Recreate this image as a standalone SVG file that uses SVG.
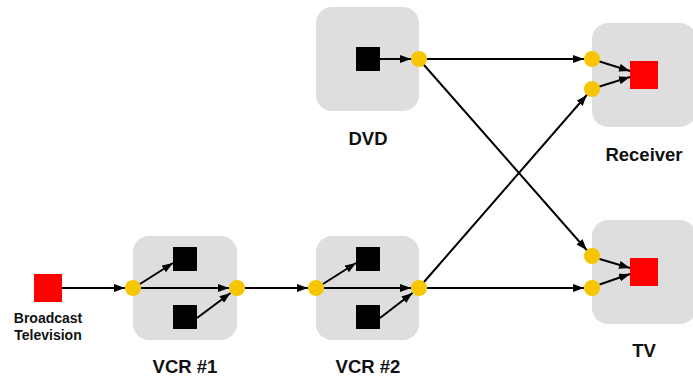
<svg xmlns="http://www.w3.org/2000/svg" width="693" height="379" viewBox="0 0 693 379">
<style>
.box{fill:#dedede}
.dot{fill:#f7c600}
.blk{fill:#000}
.red{fill:#ff0000}
.lbl{font-family:"Liberation Sans",Arial,sans-serif;font-weight:bold;font-size:18.5px;fill:#111;text-anchor:middle}
.sm{font-size:14px}
.c line{stroke:#000;stroke-width:2;marker-end:url(#ah)}
</style>
<defs>
<marker id="ah" markerUnits="userSpaceOnUse" markerWidth="12" markerHeight="8" refX="11" refY="4" orient="auto">
<path d="M0,0 L11,4 L0,8 z" fill="#000"/>
</marker>
</defs>
<rect width="693" height="379" fill="#fff"/>
<g id="broadcast">
<rect class="red" x="34" y="274" width="28" height="28"/>
<text class="lbl sm" x="48" y="322.5">Broadcast</text>
<text class="lbl sm" x="48" y="340">Television</text>
</g>
<g id="vcr1">
<rect class="box" x="133" y="236" width="104" height="104" rx="16"/>
<rect class="blk" x="173" y="247" width="24" height="24"/>
<rect class="blk" x="173" y="305" width="24" height="24"/>
<circle class="dot" cx="133" cy="288" r="8"/>
<circle class="dot" cx="237" cy="288" r="8"/>
<text class="lbl" x="185" y="372.5">VCR #1</text>
</g>
<g id="vcr2">
<rect class="box" x="316" y="236" width="103" height="104" rx="16"/>
<rect class="blk" x="356" y="247" width="24" height="24"/>
<rect class="blk" x="356" y="305" width="24" height="24"/>
<circle class="dot" cx="316" cy="288" r="8"/>
<circle class="dot" cx="419" cy="288" r="8"/>
<text class="lbl" x="368" y="372.5">VCR #2</text>
</g>
<g id="dvd">
<rect class="box" x="316" y="7" width="103" height="104" rx="16"/>
<rect class="blk" x="356" y="47" width="24" height="24"/>
<circle class="dot" cx="419" cy="59" r="8"/>
<text class="lbl" x="368" y="145">DVD</text>
</g>
<g id="receiver">
<rect class="box" x="592" y="23" width="104" height="104" rx="16"/>
<rect class="red" x="630" y="61" width="28" height="28"/>
<circle class="dot" cx="592" cy="59" r="8"/>
<circle class="dot" cx="592" cy="89" r="8"/>
<text class="lbl" x="644" y="161">Receiver</text>
</g>
<g id="tv">
<rect class="box" x="592" y="220" width="104" height="104" rx="16"/>
<rect class="red" x="630" y="258" width="28" height="28"/>
<circle class="dot" cx="592" cy="256" r="8"/>
<circle class="dot" cx="592" cy="288" r="8"/>
<text class="lbl" x="644" y="357">TV</text>
</g>
<g id="connectors" class="c">
<line x1="62" y1="288" x2="125" y2="288"/>
<line x1="140" y1="284" x2="173" y2="263"/>
<line x1="141" y1="288" x2="229" y2="288"/>
<line x1="197" y1="318" x2="230.5" y2="293"/>
<line x1="245" y1="288" x2="308" y2="288"/>
<line x1="323" y1="284" x2="356" y2="263"/>
<line x1="324" y1="288" x2="411" y2="288"/>
<line x1="380" y1="318" x2="412.5" y2="293"/>
<line x1="427" y1="288" x2="584" y2="288"/>
<line x1="424" y1="282" x2="586.8" y2="95"/>
<line x1="380" y1="59" x2="411" y2="59"/>
<line x1="427" y1="59" x2="584" y2="59"/>
<line x1="424" y1="65" x2="586.7" y2="250"/>
<line x1="599.6" y1="61.5" x2="630" y2="71"/>
<line x1="599.6" y1="86.5" x2="630" y2="77"/>
<line x1="599.6" y1="259" x2="630" y2="268"/>
<line x1="599.6" y1="284.5" x2="630" y2="274"/>
</g>
</svg>
